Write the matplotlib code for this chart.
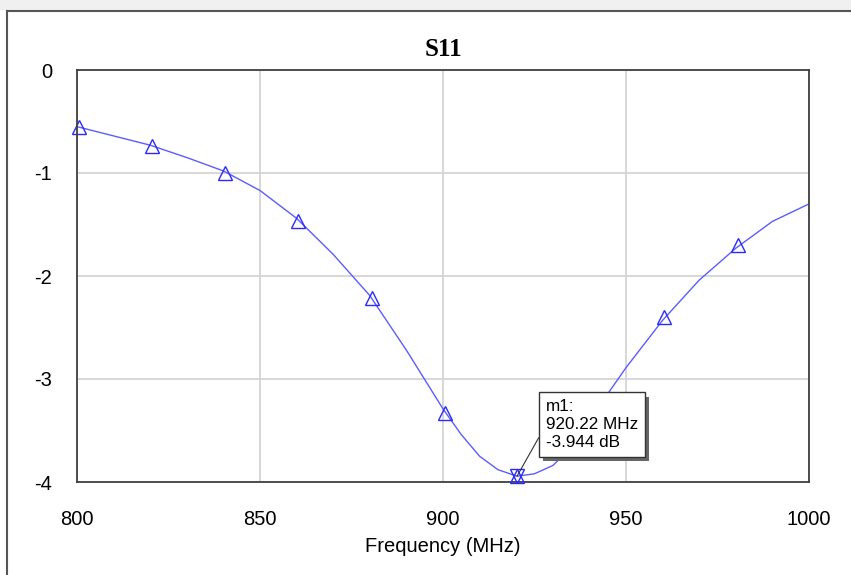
import matplotlib.pyplot as plt
import matplotlib.patheffects as pe
from matplotlib.lines import Line2D

# S11 trace (MHz, dB)
freq = [800, 810, 820, 830, 840, 850, 860, 870, 880, 890, 900, 905, 910, 915,
        920.22, 925, 930, 935, 940, 950, 960, 970, 980, 990, 1000]
s11 = [-0.55, -0.64, -0.73, -0.85, -0.98, -1.17, -1.44, -1.79, -2.19, -2.72,
       -3.29, -3.54, -3.75, -3.88, -3.944, -3.92, -3.84, -3.67, -3.40, -2.89,
       -2.43, -2.04, -1.73, -1.47, -1.30]

# triangle markers along the trace
mk_freq = [800.5, 820.5, 840.5, 860.5, 880.5, 900.5, 940.5, 960.5, 980.5]
mk_s11 = [-0.55, -0.74, -1.00, -1.47, -2.21, -3.33, -3.38, -2.40, -1.70]

m1_freq = 920.22
m1_s11 = -3.944

x_ticks = [800, 850, 900, 950, 1000]
y_ticks = [0, -1, -2, -3, -4]

line_col = '#5c5cff'
mark_col = '#2a2aff'

plt.rcParams['font.family'] = ['Liberation Sans', 'DejaVu Sans']

fig = plt.figure(figsize=(8.51, 5.75), dpi=100)

# window frame around the plot
fig.patches.append(plt.Rectangle((0, 1 - 10 / 575), 1, 10 / 575, transform=fig.transFigure,
                                 facecolor='#f0f0f0', edgecolor='none'))
fig.lines.append(Line2D([7 / 851, 1], [1 - 11 / 575, 1 - 11 / 575], transform=fig.transFigure,
                        color='#555555', lw=1.5))
fig.lines.append(Line2D([7 / 851, 7 / 851], [0, 1 - 11 / 575], transform=fig.transFigure,
                        color='#555555', lw=1.5))

ax = fig.add_axes([77 / 851, 1 - 482 / 575, 732 / 851, 412 / 575])

ax.plot(freq, s11, color=line_col, lw=1.0)
ax.plot(mk_freq, mk_s11, linestyle='none', marker='^', markersize=10.5, markerfacecolor='none',
        markeredgecolor=mark_col, markeredgewidth=1.0, clip_on=False)
ax.plot([m1_freq], [m1_s11], linestyle='none', marker='^', markersize=10.5, markerfacecolor='none',
        markeredgecolor=mark_col, markeredgewidth=1.0, clip_on=False, zorder=5)
ax.plot([m1_freq], [m1_s11], linestyle='none', marker='v', markersize=10.5, markerfacecolor='none',
        markeredgecolor=mark_col, markeredgewidth=1.0, clip_on=False, zorder=5)

ann = ax.annotate(f'm1:\n{m1_freq:.2f} MHz\n{m1_s11:.3f} dB', xy=(m1_freq, m1_s11),
                  xytext=(29, 77), textcoords='offset pixels', ha='left', va='top',
                  fontsize=12.3, linespacing=1.25,
                  bbox=dict(boxstyle='square,pad=0.4', facecolor='white', edgecolor='#333333', lw=1.0),
                  arrowprops=dict(arrowstyle='-', color='#333333', lw=0.8, relpos=(0, 0.5),
                                  shrinkA=0, shrinkB=0),
                  zorder=6, annotation_clip=False)
ann.get_bbox_patch().set_path_effects([
    pe.SimplePatchShadow(offset=(3, -3), shadow_rgbFace='#666666', alpha=1.0),
    pe.Normal()])

ax.set_xlim(800, 1000)
ax.set_ylim(-4, 0)
ax.set_xticks(x_ticks)
ax.set_yticks(y_ticks)
ax.set_yticklabels([str(v) for v in y_ticks])
ax.tick_params(length=0, labelsize=14.5)
ax.tick_params(axis='x', pad=20)
ax.tick_params(axis='y', pad=18)
ax.grid(True, color='#d4d4d4', lw=1.3)
ax.set_axisbelow(True)
for s in ax.spines.values():
    s.set_color('#404040')
    s.set_linewidth(1.3)

ax.set_title('S11', family=['Liberation Serif', 'DejaVu Serif'], fontweight='bold',
             fontsize=18, pad=10)
ax.set_xlabel('Frequency (MHz)', fontsize=14.5, labelpad=6)

fig.savefig('out.png', dpi=100)
